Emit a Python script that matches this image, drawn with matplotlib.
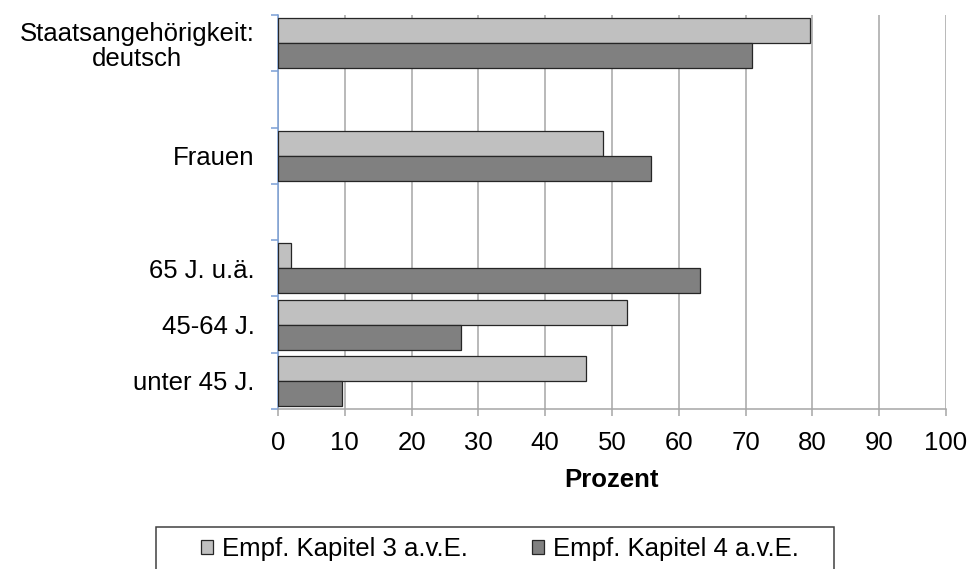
import matplotlib
matplotlib.use('Agg')
import matplotlib.pyplot as plt
import numpy as np
from matplotlib.patches import Rectangle

# data
categories = ['Staatsangehörigkeit:\ndeutsch', '', 'Frauen', '', '65 J. u.ä.', '45-64 J.', 'unter 45 J.']
kap3 = [79.6, np.nan, 48.7, np.nan, 1.9, 52.2, 46.1]
kap4 = [70.9, np.nan, 55.9, np.nan, 63.1, 27.4, 9.6]
series = ['Empf. Kapitel 3 a.v.E.', 'Empf. Kapitel 4 a.v.E.']
colors = ['#c0c0c0', '#808080']
xticks = list(range(0, 101, 10))
xlabel = 'Prozent'

plt.rcParams['font.family'] = ['Liberation Sans', 'DejaVu Sans']
fs = 18.5

fig = plt.figure(figsize=(9.73, 5.69), dpi=100)
ax = fig.add_axes([278/973, 1-409/569, (946-278)/973, (409-15)/569])

h = 0.445
pos = np.arange(len(categories))
for k, vals in enumerate([kap3, kap4]):
    vals = np.array(vals, dtype=float)
    ok = ~np.isnan(vals)
    off = -h/2 if k == 0 else h/2
    ax.barh(pos[ok] + off, vals[ok], height=h, color=colors[k],
            edgecolor='#262626', linewidth=0.9, label=series[k], zorder=3)

ax.set_xlim(0, 100)
ax.set_ylim(len(categories) - 0.5, -0.5)

# x axis
ax.set_xticks(xticks)
ax.set_xticklabels([str(t) for t in xticks], fontsize=fs)
ax.tick_params(axis='x', direction='out', length=5, width=1.1, color='#a6a6a6', pad=11)
ax.xaxis.grid(True, color='#a6a6a6', linewidth=1.1, zorder=0)
ax.set_xlabel(xlabel, fontsize=fs, fontweight='bold', labelpad=9)

# y axis: ticks on category borders, labels at centers
ax.set_yticks(np.arange(-0.5, len(categories), 1.0))
ax.set_yticklabels([])
ax.set_yticks(pos, minor=True)
ax.set_yticklabels(categories, minor=True, fontsize=fs, multialignment='center',
                   linespacing=1.05)
ax.tick_params(axis='y', which='major', direction='out', length=5, width=1.1, color='#7a9fd6')
ax.tick_params(axis='y', which='minor', length=0, pad=17)

for s in ['top', 'right']:
    ax.spines[s].set_visible(False)
ax.spines['left'].set_color('#7a9fd6')
ax.spines['left'].set_linewidth(1.1)
ax.spines['bottom'].set_color('#a6a6a6')
ax.spines['bottom'].set_linewidth(1.1)

# legend with box partly cut off at the bottom
fig.add_artist(Rectangle((156/973, -0.05), (834-156)/973, 0.05 + (569-527)/569,
                         transform=fig.transFigure, facecolor='white',
                         edgecolor='#404040', linewidth=1.1))
fig.legend(loc='center', bbox_to_anchor=(500/973, 1-549/569), ncol=2, frameon=False,
           fontsize=fs, handlelength=0.45, handleheight=0.45, handletextpad=0.35,
           columnspacing=2.5)

fig.savefig('out.png', dpi=100)
